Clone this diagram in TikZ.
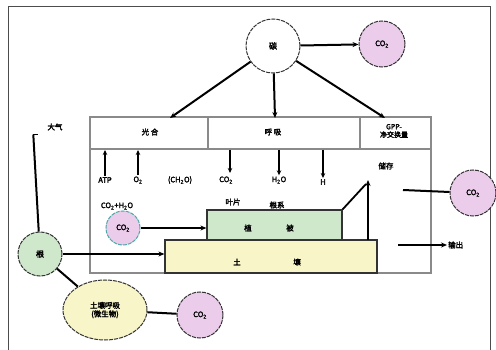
\documentclass[tikz,border=0pt]{standalone}
\usepackage{fontspec}
\newfontfamily\cjk[FakeBold=2.5]{Noto Sans CJK SC}
\usetikzlibrary{arrows.meta,shapes.geometric}
\definecolor{pinkf}{HTML}{EBCDEB}
\definecolor{greenf}{HTML}{CFE8CC}
\definecolor{yellowf}{HTML}{F8F6C8}
\definecolor{framec}{HTML}{8A8A8A}
\definecolor{tealc}{HTML}{4FA8A8}
\newcommand\lowtwo{\textsubscript{2}}
\tikzset{
  lbl/.style={font=\cjk\fontsize{7.5}{8.5}\selectfont, inner sep=1pt, align=center},
  bord/.style={dash pattern=on 4pt off 1pt, line width=1pt},
  pinkc/.style={circle, draw=black!80, bord, fill=pinkf, minimum size=46pt, inner sep=0pt, font=\cjk\fontsize{7.5}{8.5}\selectfont},
  conn/.style={line width=2pt, -{Stealth[length=6pt,width=5pt]}},
  plain/.style={line width=2pt},
  thin/.style={line width=1.3pt, -{Stealth[length=5pt,width=4.5pt]}},
  gline/.style={draw=framec, line width=1.5pt}
}
\begin{document}
\begin{tikzpicture}[x=1pt,y=-1pt]
\useasboundingbox (0,0) rectangle (496,350);
\fill[white] (0,0) rectangle (496,350);
% outer frame
\draw[black!70, line width=1pt] (8,350) -- (8,7) -- (490,7) -- (490,350);
% top circle
\node[circle, draw=black!80, bord, fill=white, minimum size=54pt, inner sep=0pt, font=\cjk\fontsize{8}{9}\selectfont] (top) at (273,46) {碳};
\node[pinkc] (co2a) at (382,44) {CO\lowtwo};
\draw[conn] (top) -- (co2a);
% main rectangle
\draw[gline] (90,117) rectangle (431,273);
\draw[gline] (90,149) -- (431,149);
\draw[gline] (208,117) -- (208,149);
\draw[gline] (360,117) -- (360,149);
\coordinate (h1) at (170,118);
\coordinate (h2) at (275,118);
\coordinate (h3) at (385,118);
\draw[conn] (top) -- (h1);
\draw[conn] (top) -- (h2);
\draw[conn] (top) -- (h3);
\node[lbl] (ha) at (150,132) {光\ 合};
\node[lbl] (hb) at (273,132) {呼\ 吸};
\node[lbl, font=\cjk\fontsize{7}{8}\selectfont] (hc) at (394,131) {GPP-\\净交换量};
% left label
\node[lbl] (atm) at (55,127) {大气};
% under-header labels
\node[lbl] (l1) at (105,180) {ATP};
\node[lbl] (l2) at (138,180) {O\lowtwo};
\node[lbl] (l3) at (180,180) {(CH\lowtwo O)};
\node[lbl] (l4) at (226,180) {CO\lowtwo};
\node[lbl] (l5) at (279,180) {H\lowtwo O};
\node[lbl] (l6) at (323,182) {H};
\coordinate (u1) at (105,150);
\coordinate (u2) at (138,150);
\coordinate (d4) at (230,150);
\coordinate (d5) at (279,150);
\coordinate (d6) at (323,150);
\draw[thin] (l1) -- (u1);
\draw[thin] (l2) -- (u2);
\draw[thin] (d4) -- (230,173);
\draw[thin] (d5) -- (l5);
\draw[thin] (d6) -- (l6);
\node[lbl] (m1) at (117,206) {CO\lowtwo+H\lowtwo O};
\node[lbl] (m2) at (233,202) {叶片};
\node[lbl] (m3) at (277,205) {根系};
\node[lbl] (st) at (386,166) {储存};
% boxes
\node[draw=black!80, line width=1.2pt, fill=yellowf, minimum width=212pt, minimum height=33pt, inner sep=0pt] (ybox) at (271,256.5) {};
\node[draw=black!80, line width=1.2pt, fill=greenf, minimum width=135pt, minimum height=30pt, inner sep=0pt] (gbox) at (274.5,225) {};
\node[lbl] at (248,228) {植};
\node[lbl] at (290,228) {被};
\node[lbl] at (237,262) {土};
\node[lbl] at (297,262) {壤};
% arrows near right of boxes
\coordinate (apex) at (368,180);
\draw[line width=1.8pt, -{Stealth[length=6pt,width=5pt]}] (368,240) -- (apex);
\draw[line width=1.8pt] (gbox.north east) -- (366,184);
% right CO2
\node[pinkc] (co2r) at (473,193) {CO\lowtwo};
\coordinate (rl) at (403,190);
\draw[plain] (rl) -- (co2r);
\coordinate (ra) at (398,245);
\node[lbl, anchor=west] (out) at (447,245) {输出};
\draw[conn] (ra) -- (out.west);
% inner CO2 circle
\node[circle, draw=tealc, bord, fill=pinkf, minimum size=34pt, inner sep=0pt, font=\cjk\fontsize{7.5}{8.5}\selectfont] (co2i) at (123,228) {CO\lowtwo};
\draw[conn] (co2i) -- (gbox.west |- co2i);
% green circle
\node[circle, draw=black!80, bord, fill=greenf, minimum size=44pt, inner sep=0pt, font=\cjk\fontsize{8}{9}\selectfont] (gc) at (40,254) {根};
\draw[plain] (atm.south west) ++(-13,3) coordinate (ak) -- (gc);
\draw[line width=1.2pt] (ak) -- ++(5,0);
\draw[conn] (gc) -- (ybox.west |- gc);
% ellipse
\node[ellipse, draw=black!80, bord, fill=yellowf, minimum width=84pt, minimum height=60pt, inner sep=0pt, align=center, font=\cjk\fontsize{7.5}{8.5}\selectfont] (el) at (105,310) {土壤呼吸\\(微生物)};
\draw[plain] (gc) -- (el);
\node[pinkc] (co2b) at (200,315) {CO\lowtwo};
\draw[plain] (el) -- (co2b);
\end{tikzpicture}
\end{document}
